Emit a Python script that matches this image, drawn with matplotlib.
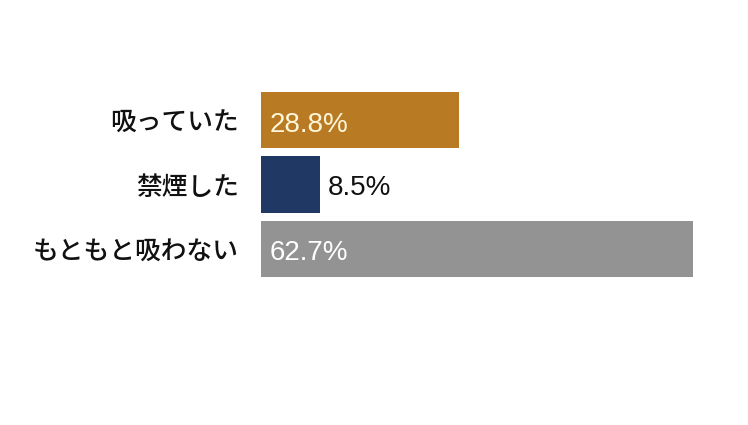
import matplotlib.pyplot as plt

# Data
categories = ["吸っていた", "禁煙した", "もともと吸わない"]
values = [28.8, 8.5, 62.7]
bar_colors = ["#B87A22", "#1F3864", "#939393"]
label_colors = ["#FFF6D8", "#111111", "#FFFFFF"]
label_inside = [True, False, True]

W, H, DPI = 748, 425, 100
fig = plt.figure(figsize=(W / DPI, H / DPI), dpi=DPI)
fig.patch.set_facecolor("white")

# axes spans bar area: left 261px, right 693px, top 92px, bottom 277px
ax = fig.add_axes([261 / W, 1 - 277 / H, (693 - 261) / W, (277 - 92) / H])
ax.set_xlim(0, max(values))
ax.set_ylim(len(values) - 1 + 0.4375, -0.4375)

ypos = list(range(len(categories)))
ax.barh(ypos, values, height=0.875, color=bar_colors, edgecolor="none")

num_font = ["Liberation Sans", "DejaVu Sans"]
jp_font = ["Noto Sans CJK JP", "DejaVu Sans"]

for y, v, c, inside in zip(ypos, values, label_colors, label_inside):
    x0 = 0 if inside else v
    dy = -3.3 if inside else -2.6
    ax.annotate(f"{v}%", xy=(x0, y), xytext=(6, dy), textcoords="offset points",
                ha="left", va="center", fontsize=20, color=c, family=num_font)

ax.set_yticks(ypos)
ax.set_yticklabels(categories, family=jp_font, fontsize=18.5, color="#111111",
                   fontweight="medium")
ax.tick_params(axis="y", length=0, pad=16)
ax.set_xticks([])
for s in ax.spines.values():
    s.set_visible(False)

fig.savefig("out.png", dpi=DPI, facecolor="white")
